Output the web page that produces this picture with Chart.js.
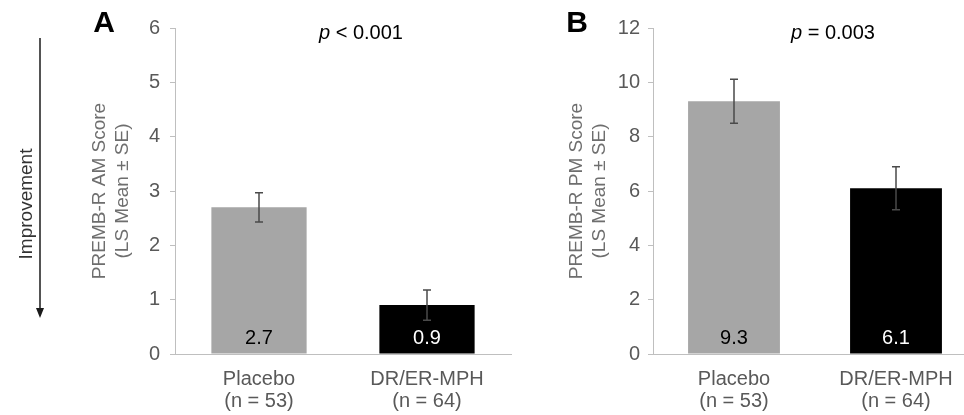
<!DOCTYPE html>
<html>
<head>
<meta charset="utf-8">
<script src="https://cdn.jsdelivr.net/npm/chart.js@4.4.0/dist/chart.umd.min.js"></script>
<style>
  html, body { margin: 0; padding: 0; background: #fff; }
  #wrap { position: relative; width: 964px; height: 415px; overflow: hidden; }
  #chartA { position: absolute; left: 0; top: 0; }
  #chartB { position: absolute; left: 512px; top: 0; }
</style>
</head>
<body>
<div id="wrap">
  <canvas id="chartA" width="512" height="415"></canvas>
  <canvas id="chartB" width="470" height="415"></canvas>
</div>
<script>
// data
const categories = [['Placebo', '(n = 53)'], ['DR/ER-MPH', '(n = 64)']];
const amMeans = [2.7, 0.9];
const amErrors = [0.27, 0.28];
const pmMeans = [9.3, 6.1];
const pmErrors = [0.81, 0.79];
const amTicks = { max: 6, step: 1 };
const pmTicks = { max: 12, step: 2 };
const barColors = ['#a6a6a6', '#000000'];
const valueColors = ['#000000', '#ffffff'];

const FONT = "'Liberation Sans', Arial, sans-serif";
const AXIS_GRAY = '#bfbfbf';
const TEXT_GRAY = '#595959';

// error bars, value labels, panel letter, p value
const extrasPlugin = {
  id: 'extras',
  afterDatasetsDraw(chart, args, opts) {
    const ctx = chart.ctx;
    const meta = chart.getDatasetMeta(0);
    const y = chart.scales.y;
    const values = chart.data.datasets[0].data;
    ctx.save();
    meta.data.forEach((bar, i) => {
      // error bar
      const top = y.getPixelForValue(values[i] + opts.errors[i]);
      const bot = y.getPixelForValue(values[i] - opts.errors[i]);
      ctx.strokeStyle = '#4a4a4a';
      ctx.lineWidth = 1.5;
      ctx.beginPath();
      ctx.moveTo(bar.x, top); ctx.lineTo(bar.x, bot);
      ctx.moveTo(bar.x - 4, top); ctx.lineTo(bar.x + 4, top);
      ctx.moveTo(bar.x - 4, bot); ctx.lineTo(bar.x + 4, bot);
      ctx.stroke();
      // value inside bar
      ctx.fillStyle = valueColors[i];
      ctx.font = '20px ' + FONT;
      ctx.textAlign = 'center';
      ctx.textBaseline = 'middle';
      ctx.fillText(values[i].toFixed(1), bar.x, y.getPixelForValue(0) - 16);
    });
    ctx.restore();
  },
  afterDraw(chart, args, opts) {
    const ctx = chart.ctx;
    ctx.save();
    ctx.fillStyle = '#000';
    ctx.textBaseline = 'middle';
    ctx.textAlign = 'center';
    ctx.font = 'bold 30px ' + FONT;
    ctx.fillText(opts.letter, opts.letterX, 24);

    // p value, italic p
    ctx.textAlign = 'left';
    ctx.font = 'italic 20px ' + FONT;
    const pw = ctx.measureText('p').width;
    ctx.font = '20px ' + FONT;
    const rest = ' ' + opts.pText;
    const rw = ctx.measureText(rest).width;
    const x0 = opts.pX - (pw + rw) / 2;
    ctx.font = 'italic 20px ' + FONT;
    ctx.fillText('p', x0, 33);
    ctx.font = '20px ' + FONT;
    ctx.fillText(rest, x0 + pw, 33);

    if (opts.arrow) {
      ctx.strokeStyle = '#1a1a1a';
      ctx.fillStyle = '#1a1a1a';
      ctx.lineWidth = 1.5;
      ctx.beginPath();
      ctx.moveTo(40, 38); ctx.lineTo(40, 310);
      ctx.stroke();
      ctx.beginPath();
      ctx.moveTo(36, 308); ctx.lineTo(44, 308); ctx.lineTo(40, 318);
      ctx.closePath();
      ctx.fill();
      ctx.translate(27, 204);
      ctx.rotate(-Math.PI / 2);
      ctx.textAlign = 'center';
      ctx.fillStyle = '#333333';
      ctx.font = '19px ' + FONT;
      ctx.fillText('Improvement', 0, 0);
    }
    ctx.restore();
  }
};

function makeChart(id, values, errors, ticks, cfg) {
  return new Chart(document.getElementById(id), {
    type: 'bar',
    data: {
      labels: categories,
      datasets: [{
        data: values,
        backgroundColor: barColors,
        borderWidth: 0,
        categoryPercentage: 1,
        barPercentage: 0.567
      }]
    },
    options: {
      responsive: false,
      animation: false,
      devicePixelRatio: 1,
      layout: { padding: { left: 0, right: cfg.padRight, top: 28, bottom: 0 } },
      plugins: {
        legend: { display: false },
        tooltip: { enabled: false },
        extras: cfg.extras
      },
      scales: {
        x: {
          grid: { display: false, drawTicks: false },
          border: { display: true, color: AXIS_GRAY, width: 1 },
          ticks: {
            color: TEXT_GRAY,
            padding: 14,
            font: { family: FONT, size: 20, lineHeight: 1.1 },
            maxRotation: 0
          },
          afterFit: s => { s.height = 61; }
        },
        y: {
          min: 0,
          max: ticks.max,
          grid: { drawOnChartArea: false, drawTicks: true, tickLength: 5, color: AXIS_GRAY },
          border: { display: true, color: AXIS_GRAY, width: 1 },
          ticks: {
            stepSize: ticks.step,
            color: TEXT_GRAY,
            padding: cfg.tickPad,
            font: { family: FONT, size: 20 }
          },
          title: {
            display: true,
            text: cfg.title,
            color: '#6e6e6e',
            font: { family: FONT, size: 19, lineHeight: 1.21 },
            padding: { top: cfg.titlePad, bottom: 0 }
          },
          afterFit: s => { s.width = cfg.yWidth; }
        }
      }
    },
    plugins: [extrasPlugin]
  });
}

makeChart('chartA', amMeans, amErrors, amTicks, {
  padRight: 1,
  tickPad: 10,
  yWidth: 175,
  titlePad: 88,
  title: ['PREMB-R AM Score', '(LS Mean \u00b1 SE)'],
  extras: { errors: amErrors, letter: 'A', letterX: 104, pText: '< 0.001', pX: 361, arrow: true }
});

makeChart('chartB', pmMeans, pmErrors, pmTicks, {
  padRight: 5,
  tickPad: 8,
  yWidth: 141,
  titlePad: 53,
  title: ['PREMB-R PM Score', '(LS Mean \u00b1 SE)'],
  extras: { errors: pmErrors, letter: 'B', letterX: 65, pText: '= 0.003', pX: 321, arrow: false }
});
</script>
</body>
</html>
